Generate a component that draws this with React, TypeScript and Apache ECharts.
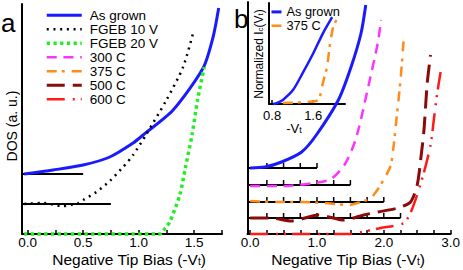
import React, { useEffect, useRef } from 'react';
import * as echarts from 'echarts';

const FONT = "'Liberation Sans', Arial, Helvetica, sans-serif";

// ---------- Panel a ----------
const aXTicks = [0, 0.25, 0.5, 0.75, 1, 1.25, 1.5, 1.75];
const aXLabels = [0, 0.5, 1, 1.5];
const aAsGrown = [[-0.03, 6.0], [0.23, 6.4], [0.5, 6.9], [0.74, 7.7], [0.95, 9.1], [1.04, 9.9], [1.31, 12.4], [1.58, 16.6], [1.67, 19.7], [1.72, 22.6]];
const aFgeb10 = [[-0.03, 3.0], [0.14, 3.1], [0.31, 2.8], [0.46, 3.1], [0.5, 3.4], [0.62, 4.2], [0.74, 5.3], [0.86, 6.7], [0.95, 7.9], [1.07, 10.0], [1.25, 13.4], [1.4, 16.7], [1.49, 20.1]];
const aFgeb20 = [[-0.03, 0], [1.19, 0], [1.24, 0.6], [1.28, 1.2], [1.37, 3.9], [1.42, 6.6], [1.48, 9.9], [1.53, 13.4], [1.59, 16.7]];
const aBaseEnds = [0.5, 0.75];
const aBaseLevels = [6.0, 3.0];

// ---------- Panel b ----------
const bXTicks = [0, 0.25, 0.5, 0.75, 1, 1.25, 1.5, 1.75, 2, 2.25, 2.5, 2.75, 3];
const bXLabels = [0, 1, 2, 3];
const bAsGrown = [[0, 6.6], [0.22, 6.7], [0.47, 7.2], [0.77, 8.2], [0.99, 9.9], [1.32, 13.4], [1.51, 16.7], [1.66, 20.1], [1.73, 22.9]];
const b300 = [[0, 4.8], [0.5, 4.8], [0.96, 5.1], [1.21, 5.5], [1.41, 6.9], [1.55, 8.9], [1.63, 10.7], [1.78, 15.1], [1.91, 19.1], [1.96, 21.4]];
const b375 = [[0, 3.3], [0.4, 3.2], [0.75, 3.2], [1.1, 3.1], [1.47, 2.9], [1.7, 3.3], [1.81, 3.6], [1.95, 4.9], [2.1, 6.8], [2.15, 9.0], [2.19, 11.5], [2.25, 15.4], [2.3, 19.7]];
const b500 = [[0, 1.6], [0.3, 1.6], [0.62, 1.3], [1.02, 1.9], [1.4, 1.4], [1.7, 1.9], [1.91, 2.2], [2.21, 2.6], [2.4, 3.2], [2.5, 4.9], [2.56, 7.9], [2.6, 10.3], [2.65, 15.1], [2.7, 17.9]];
const b600 = [[0, 0], [1.46, 0], [1.95, 0.6], [2.3, 1.1], [2.43, 2.6], [2.59, 5.9], [2.7, 8.9], [2.75, 11.5], [2.8, 14.1], [2.85, 16.2]];
const bBaseEnds = [1.0, 1.5, 2.0, 2.25];
const bBaseLevels = [6.6, 4.9, 3.2, 1.6];
const bBaseTickStep = 0.25;

// ---------- Inset ----------
const insetXTicks = [0.8, 1.6];
const insetAsGrown = [[0.82, 0], [0.9, 0.01], [1.01, 0.04], [1.21, 0.14], [1.4, 0.31], [1.6, 0.5], [1.79, 0.7], [1.97, 0.86]];
const inset375 = [[1.01, 0.01], [1.48, 0.02], [1.7, 0.04], [1.79, 0.21], [1.87, 0.37], [1.93, 0.6], [1.99, 0.76], [2.07, 0.85]];

const legendNames = ['As grown', 'FGEB 10 V', 'FGEB 20 V', '300 C', '375 C', '500 C', '600 C'];
const insetLegendNames = ['As grown', '375 C'];

const C = {
  blue: '#1a1aff',
  black: '#000000',
  green: '#22ee22',
  magenta: '#ff33ff',
  orange: '#ff8c1a',
  darkred: '#8b0a0a',
  red: '#ff1a1a',
};

const STY: Record<string, any> = {
  'As grown': { color: C.blue, width: 3, type: 'solid' },
  'FGEB 10 V': { color: C.black, width: 2.5, type: [2, 4.7] },
  'FGEB 20 V': { color: C.green, width: 3.5, type: [3.3, 3.4] },
  '300 C': { color: C.magenta, width: 2.5, type: [10, 6.7] },
  '375 C': { color: C.orange, width: 2.5, type: [10, 5, 3, 7] },
  '500 C': { color: C.darkred, width: 3, type: [18, 8] },
  '600 C': { color: C.red, width: 2.5, type: [18, 8, 2, 6, 2, 6] },
};

function dataSeries(name: string, data: number[][], axis: number, width?: number) {
  const s = STY[name];
  return {
    name,
    type: 'line',
    xAxisIndex: axis,
    yAxisIndex: axis,
    data,
    symbol: 'none',
    smooth: 0.25,
    clip: false,
    z: 3,
    itemStyle: { color: s.color },
    lineStyle: { color: s.color, width: width ?? s.width, type: s.type },
  };
}

function baselineSeries(axis: number, xmin: number, end: number, level: number, withTicks: boolean) {
  const pts: any[] = [{ value: [xmin, level], symbol: 'none' }];
  if (withTicks) {
    for (let x = bBaseTickStep; x <= end + 1e-9; x += bBaseTickStep) {
      pts.push({ value: [x, level] });
    }
  } else {
    pts.push({ value: [end, level], symbol: 'none' });
  }
  return {
    type: 'line',
    xAxisIndex: axis,
    yAxisIndex: axis,
    data: pts,
    symbol: 'rect',
    symbolSize: [1.5, 5],
    symbolOffset: [0, -2.5],
    showSymbol: true,
    silent: true,
    z: 1,
    itemStyle: { color: '#000' },
    lineStyle: { color: '#000', width: 2 },
  };
}

function xAxis(grid: number, min: number, max: number, ticks: number[], labels: number[], fs: number, margin: number) {
  return {
    gridIndex: grid,
    type: 'value',
    min,
    max,
    axisLine: { onZero: false, lineStyle: { color: '#000', width: 2 } },
    axisTick: { inside: true, length: 4, customValues: ticks, lineStyle: { color: '#000', width: 1.5 } },
    axisLabel: {
      customValues: labels,
      formatter: (v: number) => v.toFixed(1),
      color: '#000',
      fontSize: fs,
      fontFamily: FONT,
      lineHeight: fs - 1,
      margin,
    },
    splitLine: { show: false },
  };
}

function yAxis(grid: number, min: number, max: number) {
  return {
    gridIndex: grid,
    type: 'value',
    min,
    max,
    axisLine: { show: true, onZero: false, lineStyle: { color: '#000', width: 2 } },
    axisTick: { show: false },
    axisLabel: { show: false },
    splitLine: { show: false },
  };
}

const sub = (fs: number, sfs: number) => ({
  n: { fontSize: fs, fontFamily: FONT, fill: '#000', lineHeight: fs - 1 },
  s: { fontSize: sfs, fontFamily: FONT, fill: '#000', lineHeight: sfs - 1, verticalAlign: 'bottom' },
});

const option: any = {
  animation: false,
  backgroundColor: '#fff',
  grid: [
    { left: 22, top: 4, width: 200, height: 230 },
    { left: 247.5, top: 2, width: 204.5, height: 232 },
    { left: 269, top: 3, width: 76, height: 101 },
  ],
  xAxis: [
    xAxis(0, -0.05, 1.75, aXTicks, aXLabels, 13.5, 2.5),
    xAxis(1, -0.04, 3.0, bXTicks, bXLabels, 13.5, 2.5),
    xAxis(2, 0.74, 2.22, insetXTicks, insetXTicks, 13, 5),
  ],
  yAxis: [yAxis(0, 0, 23), yAxis(1, 0, 23.2), yAxis(2, 0, 1)],
  legend: [
    {
      data: legendNames,
      orient: 'vertical',
      left: 45,
      top: 8.2,
      padding: 0,
      itemWidth: 35,
      itemHeight: 13.6,
      itemGap: 0,
      textStyle: { fontSize: 13.5, fontFamily: FONT, color: '#000', lineHeight: 13.6, padding: [0, 0, 0, 3] },
      lineStyle: { width: 'inherit' },
      itemStyle: { opacity: 0 },
      selectedMode: false,
    },
    {
      data: insetLegendNames,
      orient: 'vertical',
      left: 270,
      top: 5,
      padding: 0,
      itemWidth: 10,
      itemHeight: 13.8,
      itemGap: 0,
      textStyle: { fontSize: 12.8, fontFamily: FONT, color: '#000', lineHeight: 13.8 },
      lineStyle: { width: 'inherit' },
      itemStyle: { opacity: 0 },
      selectedMode: false,
    },
  ],
  graphic: [
    { type: 'text', x: 1, y: 23, style: { text: 'a', fontSize: 26, fontFamily: FONT, fill: '#000', align: 'left', verticalAlign: 'middle' } },
    { type: 'text', x: 234, y: 19, style: { text: 'b', fontSize: 26, fontFamily: FONT, fill: '#000', align: 'left', verticalAlign: 'middle' } },
    { type: 'text', x: 12, y: 126, rotation: Math.PI / 2, style: { text: 'DOS (a. u.)', fontSize: 14, fontFamily: FONT, fill: '#000', align: 'center', verticalAlign: 'middle' } },
    { type: 'text', x: 129, y: 259, style: { text: '{n|Negative Tip Bias (-V}{s|t}{n|)}', rich: sub(15.5, 10), align: 'center', verticalAlign: 'middle' } },
    { type: 'text', x: 348, y: 259, style: { text: '{n|Negative Tip Bias (-V}{s|t}{n|)}', rich: sub(15.5, 10), align: 'center', verticalAlign: 'middle' } },
    { type: 'text', x: 294, y: 128, style: { text: '{n|-V}{s|t}', rich: sub(13, 9), align: 'center', verticalAlign: 'middle' } },
    { type: 'text', x: 259, y: 54, rotation: Math.PI / 2, style: { text: '{n|Normalized I}{s|c}{n|(V}{s|t}{n|)}', rich: sub(12, 8), align: 'center', verticalAlign: 'middle' } },
  ],
  series: [
    ...aBaseEnds.map((e, i) => baselineSeries(0, -0.05, e, aBaseLevels[i], false)),
    dataSeries('As grown', aAsGrown, 0),
    dataSeries('FGEB 10 V', aFgeb10, 0),
    dataSeries('FGEB 20 V', aFgeb20, 0),
    ...bBaseEnds.map((e, i) => baselineSeries(1, -0.04, e, bBaseLevels[i], true)),
    dataSeries('As grown', bAsGrown, 1),
    dataSeries('300 C', b300, 1),
    dataSeries('375 C', b375, 1),
    dataSeries('500 C', b500, 1),
    dataSeries('600 C', b600, 1),
    dataSeries('As grown', insetAsGrown, 2, 2.5),
    dataSeries('375 C', inset375, 2, 2.5),
  ],
};

export default function App() {
  const ref = useRef<HTMLDivElement>(null);
  useEffect(() => {
    const chart = echarts.init(ref.current!, null, { renderer: 'svg' });
    chart.setOption(option);
    return () => chart.dispose();
  }, []);
  return <div ref={ref} style={{ position: 'absolute', left: 0, top: 0, width: 463, height: 270 }} />;
}
